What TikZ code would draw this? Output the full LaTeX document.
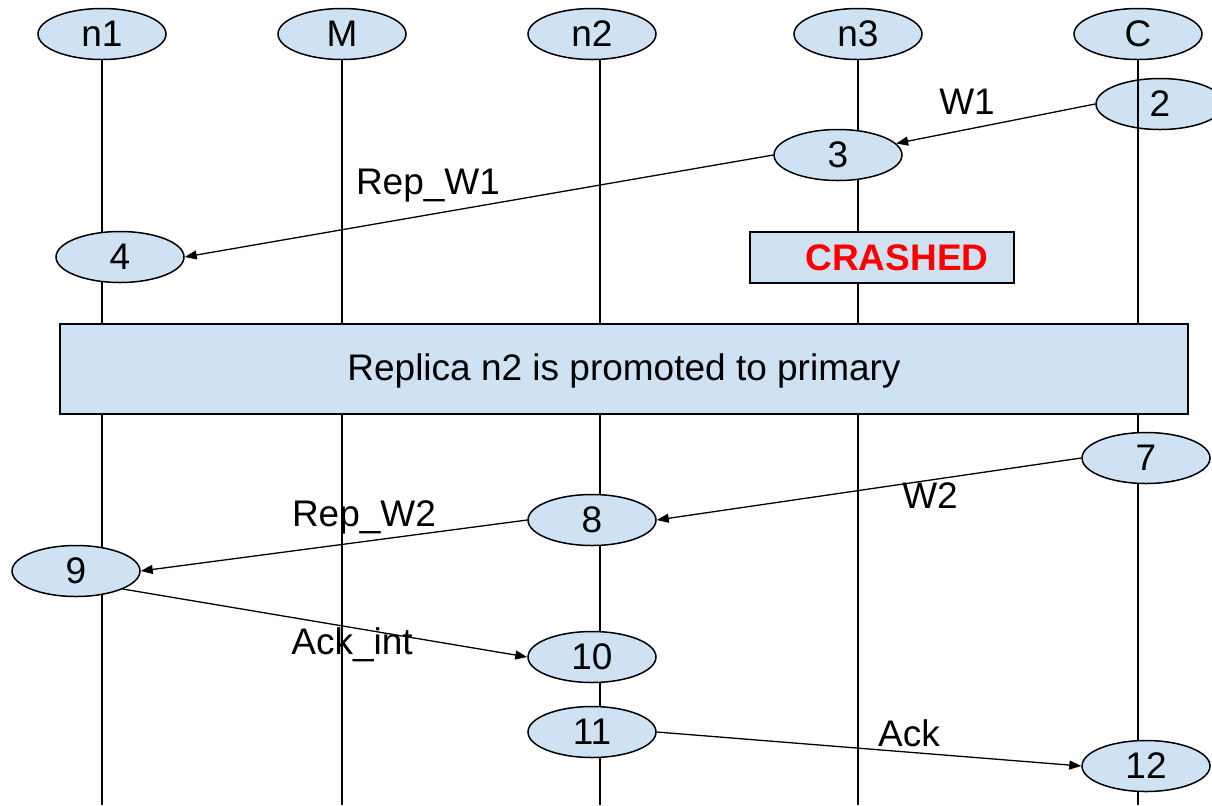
\documentclass[tikz,border=0pt]{standalone}
\usepackage{fontspec}
\setmainfont{Liberation Sans}
\usetikzlibrary{arrows.meta,shapes.geometric}
\definecolor{paleblue}{HTML}{CFE2F3}
\definecolor{crashred}{HTML}{FF0000}
\tikzset{
  lbl/.style={font=\fontsize{18.5}{21}\selectfont, inner sep=0pt},
  oval/.style={ellipse, draw=black, line width=0.75pt, fill=paleblue,
    minimum width=64pt, minimum height=25.5pt, inner sep=0pt,
    font=\fontsize{18.5}{21}\selectfont},
  life/.style={draw=black, line width=0.6pt},
  msg/.style={draw=black, line width=0.65pt, -{Triangle[length=6pt,width=4.5pt]}},
  panel/.style={draw=black, line width=0.75pt, fill=paleblue, inner sep=0pt}
}
\begin{document}
\begin{tikzpicture}[x=0.5pt, y=-0.5pt]
\useasboundingbox (0,0) rectangle (1212,805);

% process headers
\node[oval] (hn1) at (102,34) {n1};
\node[oval] (hM)  at (342,34) {M};
\node[oval] (hn2) at (592,34) {n2};
\node[oval] (hn3) at (858,34) {n3};
\node[oval] (hC)  at (1138,34) {C};

% the client's first event sits beneath its lifeline
\node[oval] (e2) at (1160,104) {2};

% lifelines
\coordinate (tn2) at (600,60);
\coordinate (bn1) at (102,805);
\coordinate (bM)  at (342,805);
\coordinate (bn2) at (600,805);
\coordinate (bn3) at (858,805);
\coordinate (bC)  at (1138,805);
\draw[life] (hn1.south) -- (bn1);
\draw[life] (hM.south)  -- (bM);
\draw[life] (tn2) -- (bn2);
\draw[life] (hn3.south) -- (bn3);
\draw[life] (hC.south)  -- (bC);

% events
\node[oval] (e3)  at (838,155) {3};
\node[oval] (e4)  at (120,257) {4};
\node[oval] (e7)  at (1146,458) {7};
\node[oval] (e8)  at (592,520) {8};
\node[oval] (e9)  at (76,571) {9};
\node[oval] (e10) at (592,657) {10};
\node[oval] (e11) at (592,732) {11};
\node[oval] (e12) at (1146,766) {12};

% crash marker and failover banner
\node[panel, minimum width=132pt, minimum height=25.5pt] (crash) at (882,257.5) {};
\node[lbl, font=\fontsize{18.5}{21}\selectfont\bfseries, text=crashred] (crashtxt) at (897,258) {CRASHED};
\node[panel, minimum width=564pt, minimum height=45pt] (promo) at (624,369) {};
\node[lbl] (promotxt) at (624,371) {Replica n2 is promoted to primary};

% messages
\draw[msg] (e2.west) -- (e3);
\draw[msg] (e3.west) -- (e4.east);
\draw[msg] (e7.west) -- (e8.east);
\draw[msg] (e8.west) -- (e9.east);
\draw[msg] (e9.-21) -- (e10.west);
\draw[msg] (e11.east) -- (e12.west);

% message labels
\node[lbl] (lw1)   at (967,102) {W1};
\node[lbl] (lrw1)  at (428,186) {Rep\_W1};
\node[lbl] (lw2)   at (930,496) {W2};
\node[lbl] (lrw2)  at (364,517) {Rep\_W2};
\node[lbl] (lack1) at (352,645) {Ack\_int};
\node[lbl] (lack)  at (909,733) {Ack};
\end{tikzpicture}
\end{document}
